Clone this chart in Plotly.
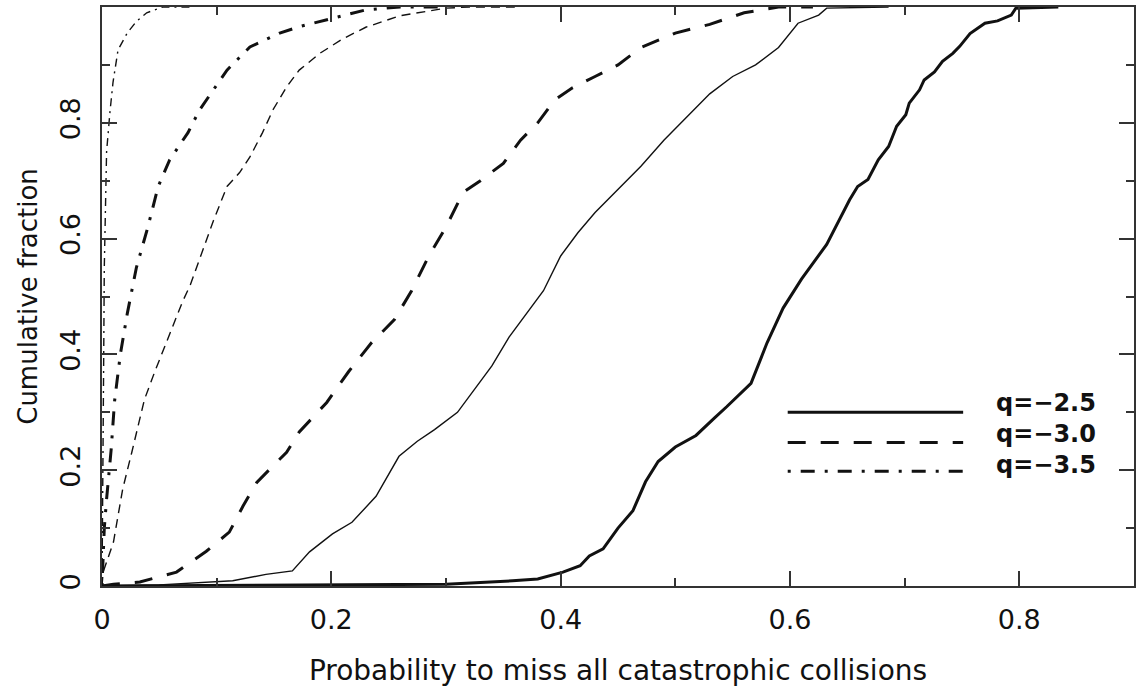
import plotly.graph_objects as go

# ---------------- data ----------------
# q = -2.5, thick solid
x_s_thick = [0, 0.1, 0.2, 0.3, 0.358, 0.38, 0.402, 0.417, 0.425, 0.437, 0.45, 0.463, 0.474, 0.485,
             0.50, 0.518, 0.534, 0.545, 0.566, 0.58, 0.594, 0.61, 0.632, 0.652, 0.659, 0.668,
             0.677, 0.686, 0.693, 0.701, 0.704, 0.713, 0.717, 0.726, 0.733, 0.742, 0.748,
             0.757, 0.770, 0.781, 0.793, 0.797, 0.834]
y_s_thick = [0, 0.001, 0.002, 0.003, 0.009, 0.012, 0.024, 0.035, 0.052, 0.064, 0.10, 0.13, 0.18,
             0.215, 0.24, 0.26, 0.29, 0.31, 0.35, 0.42, 0.48, 0.53, 0.59, 0.667, 0.690, 0.702,
             0.736, 0.759, 0.794, 0.814, 0.834, 0.857, 0.874, 0.888, 0.906, 0.920, 0.932,
             0.954, 0.972, 0.976, 0.986, 0.998, 1.0]
# q = -2.5, thin solid
x_s_thin = [0, 0.05, 0.114, 0.143, 0.166, 0.181, 0.201, 0.218, 0.239, 0.251, 0.259, 0.275, 0.29,
            0.31, 0.325, 0.34, 0.355, 0.37, 0.385, 0.40, 0.415, 0.43, 0.45, 0.47, 0.49, 0.51,
            0.53, 0.55, 0.57, 0.59, 0.607, 0.625, 0.632, 0.686]
y_s_thin = [0, 0.002, 0.009, 0.02, 0.026, 0.059, 0.09, 0.11, 0.155, 0.197, 0.224, 0.25, 0.27,
            0.30, 0.34, 0.38, 0.43, 0.47, 0.51, 0.57, 0.61, 0.645, 0.685, 0.725, 0.77, 0.81,
            0.85, 0.88, 0.90, 0.93, 0.972, 0.986, 0.998, 1.0]
# q = -3.0, thick dashed
x_d_thick = [0, 0.01, 0.033, 0.065, 0.091, 0.111, 0.123, 0.135, 0.161, 0.172, 0.196, 0.215,
             0.235, 0.255, 0.27, 0.285, 0.30, 0.315, 0.33, 0.35, 0.365, 0.38, 0.395, 0.41,
             0.43, 0.45, 0.47, 0.50, 0.53, 0.56, 0.59, 0.62]
y_d_thick = [0, 0.003, 0.007, 0.024, 0.06, 0.093, 0.138, 0.179, 0.231, 0.266, 0.317, 0.37,
             0.42, 0.46, 0.51, 0.57, 0.62, 0.68, 0.70, 0.73, 0.77, 0.80, 0.84, 0.86,
             0.88, 0.90, 0.93, 0.955, 0.97, 0.99, 1.0, 1.0]
# q = -3.0, thin dashed
x_d_thin = [0, 0.001, 0.01, 0.018, 0.026, 0.033, 0.037, 0.046, 0.058, 0.07, 0.077, 0.088,
            0.097, 0.109, 0.12, 0.129, 0.14, 0.149, 0.161, 0.172, 0.19, 0.21, 0.23, 0.26,
            0.30, 0.32, 0.36]
y_d_thin = [0, 0.024, 0.076, 0.167, 0.231, 0.288, 0.322, 0.37, 0.43, 0.49, 0.52, 0.58,
            0.63, 0.69, 0.714, 0.741, 0.783, 0.822, 0.862, 0.891, 0.92, 0.945, 0.965, 0.985,
            0.998, 1.0, 1.0]
# q = -3.5, thick dash-dot
x_dd_thick = [0, 0.001, 0.002, 0.004, 0.008, 0.011, 0.016, 0.022, 0.03, 0.04, 0.049, 0.059,
              0.075, 0.085, 0.109, 0.129, 0.155, 0.172, 0.20, 0.23, 0.26, 0.30]
y_dd_thick = [0, 0.05, 0.10, 0.15, 0.236, 0.32, 0.40, 0.47, 0.55, 0.62, 0.69, 0.736,
              0.783, 0.822, 0.891, 0.931, 0.955, 0.966, 0.98, 0.995, 1.0, 1.0]
# q = -3.5, thin dash-dot
x_dd_thin = [0, 0.0005, 0.001, 0.0015, 0.002, 0.003, 0.004, 0.007, 0.0096, 0.014, 0.022,
             0.03, 0.039, 0.053, 0.08]
y_dd_thin = [0, 0.10, 0.25, 0.40, 0.55, 0.65, 0.75, 0.82, 0.87, 0.926, 0.955,
             0.975, 0.99, 1.0, 1.0]

legend_labels = ["q=\u22122.5", "q=\u22123.0", "q=\u22123.5"]

x_ticks = [0, 0.2, 0.4, 0.6, 0.8]
y_ticks = [0, 0.2, 0.4, 0.6, 0.8, 1]

# ---------------- styles ----------------
INK = "#111111"
FONT = "DejaVu Sans"
DASH = "18px,15px"
DASHDOT = "3px,10px,14px,10px"
DASH_THIN = "9px,6px"
DASHDOT_THIN = "8px,5px,2px,5px"

fig = go.Figure()

def add(x, y, width, dash):
    fig.add_trace(go.Scatter(x=x, y=y, mode="lines", showlegend=False, hoverinfo="skip",
                             line=dict(color=INK, width=width, dash=dash)))

add(x_s_thick, y_s_thick, 3, "solid")
add(x_s_thin, y_s_thin, 1.4, "solid")
add(x_d_thick, y_d_thick, 3, DASH)
add(x_d_thin, y_d_thin, 1.4, DASH_THIN)
add(x_dd_thick, y_dd_thick, 3, DASHDOT)
add(x_dd_thin, y_dd_thin, 1.4, DASHDOT_THIN)

# ---------------- hand-drawn legend (as in the original) ----------------
leg_x0, leg_x1, leg_xt = 0.598, 0.751, 0.778
leg_y = [0.30, 0.248, 0.198]
leg_text_y = 0.262
leg_dash = ["solid", DASH, DASHDOT]
for i in range(3):
    fig.add_shape(type="line", xref="x", yref="y", x0=leg_x0, x1=leg_x1, y0=leg_y[i], y1=leg_y[i],
                  line=dict(color=INK, width=3, dash=leg_dash[i]))
fig.add_annotation(x=leg_xt, y=leg_text_y, xref="x", yref="y",
                   text="<br>".join("<b>" + t + "</b>" for t in legend_labels),
                   showarrow=False, xanchor="left", yanchor="middle", align="left",
                   font=dict(family=FONT, size=24, color=INK))

axis_common = dict(
    showline=True, linewidth=2, linecolor="#333333", mirror="allticks",
    ticks="inside", ticklen=15, tickwidth=1.5, tickcolor="#333333",
    showgrid=False, zeroline=False,
    tickfont=dict(family=FONT, size=27, color=INK),
)

fig.update_layout(
    width=1141, height=687,
    margin=dict(l=102, r=5, t=7, b=100),
    paper_bgcolor="white", plot_bgcolor="white",
    xaxis=dict(range=[0, 0.9], tickvals=x_ticks, ticktext=[str(v) for v in x_ticks],
               minor=dict(dtick=0.1, tick0=0, ticks="inside", ticklen=8, tickwidth=1.5,
                          tickcolor="#333333"),
               ticklabelstandoff=9,
               title=dict(text="Probability to miss all catastrophic collisions", standoff=27,
                          font=dict(family=FONT, size=28, color=INK)),
               **axis_common),
    yaxis=dict(range=[0, 1], tickvals=y_ticks, ticktext=[str(v) for v in y_ticks],
               tickangle=-90,
               minor=dict(dtick=0.1, tick0=0, ticks="inside", ticklen=8, tickwidth=1.5,
                          tickcolor="#333333"),
               ticklabelstandoff=9,
               title=dict(text="Cumulative fraction", standoff=10,
                          font=dict(family=FONT, size=26, color=INK)),
               **axis_common),
)

fig.write_html("out.html")
